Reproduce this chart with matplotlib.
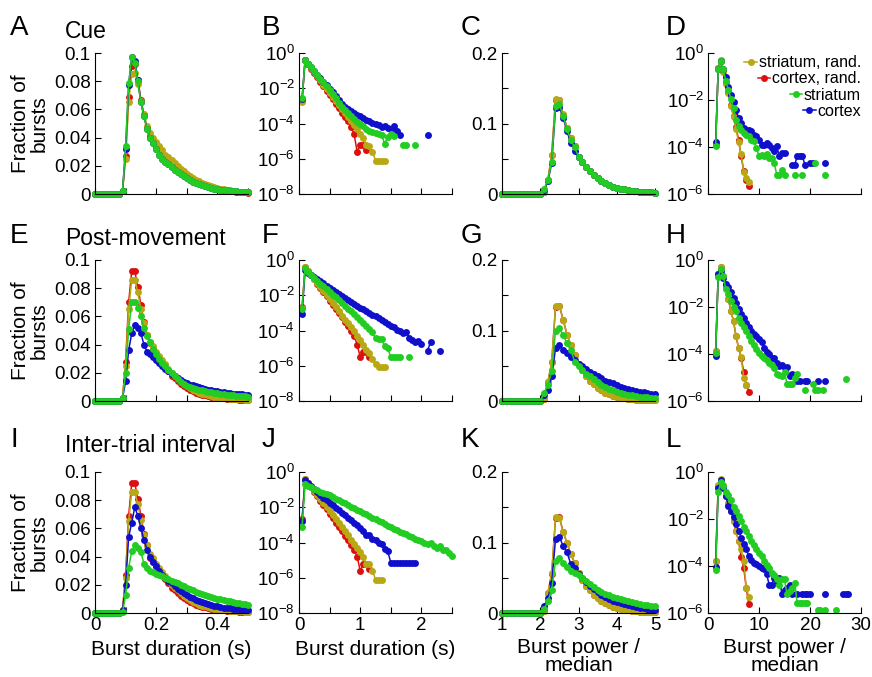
import numpy as np
import matplotlib
matplotlib.use('Agg')
import matplotlib.pyplot as plt
from matplotlib.ticker import NullLocator

plt.rcParams['font.family'] = ['Liberation Sans', 'DejaVu Sans']
plt.rcParams['mathtext.default'] = 'regular'
plt.rcParams['axes.unicode_minus'] = False

# ---- x positions of the histogram bins ----
DUR_X = [0.00, 0.01, 0.02, 0.03, 0.04, 0.05, 0.06, 0.07, 0.08, 0.09,
         0.10, 0.11, 0.12, 0.13, 0.14, 0.15, 0.16, 0.17, 0.18, 0.19,
         0.20, 0.21, 0.22, 0.23, 0.24, 0.25, 0.26, 0.27, 0.28, 0.29,
         0.30, 0.31, 0.32, 0.33, 0.34, 0.35, 0.36, 0.37, 0.38, 0.39,
         0.40, 0.41, 0.42, 0.43, 0.44, 0.45, 0.46, 0.47, 0.48, 0.49, 0.50]
DUR_LOG_X = [0.05, 0.10, 0.15, 0.20, 0.25, 0.30, 0.35, 0.40, 0.45, 0.50,
             0.55, 0.60, 0.65, 0.70, 0.75, 0.80, 0.85, 0.90, 0.95, 1.00,
             1.05, 1.10, 1.15, 1.20, 1.25, 1.30, 1.35, 1.40, 1.45, 1.50,
             1.55, 1.60, 1.65, 1.70, 1.75, 1.80, 1.85, 1.90, 1.95, 2.00,
             2.05, 2.10, 2.15, 2.20, 2.25, 2.30, 2.35, 2.40, 2.45, 2.50]
POW_X = [1.0, 1.1, 1.2, 1.3, 1.4, 1.5, 1.6, 1.7, 1.8, 1.9,
         2.0, 2.1, 2.2, 2.3, 2.4, 2.5, 2.6, 2.7, 2.8, 2.9,
         3.0, 3.1, 3.2, 3.3, 3.4, 3.5, 3.6, 3.7, 3.8, 3.9,
         4.0, 4.1, 4.2, 4.3, 4.4, 4.5, 4.6, 4.7, 4.8, 4.9, 5.0]
POW_LOG_X = [1.5, 2.0, 2.5, 3.0, 3.5, 4.0, 4.5, 5.0, 5.5, 6.0,
             6.5, 7.0, 7.5, 8.0, 8.5, 9.0, 9.5, 10.0, 10.5, 11.0,
             11.5, 12.0, 12.5, 13.0, 13.5, 14.0, 14.5, 15.0, 15.5, 16.0,
             16.5, 17.0, 17.5, 18.0, 18.5, 19.0, 19.5, 20.0, 20.5, 21.0,
             21.5, 22.0, 22.5, 23.0, 23.5, 24.0, 24.5, 25.0, 25.5, 26.0,
             26.5, 27.0, 27.5]

# empty bins before the rise (0 - 0.08 s, power 1.0 - 2.0)
DUR_LEAD = [0, 0, 0, 0, 0, 0, 0, 0, 0]
POW_LEAD = [0, 0, 0, 0, 0, 0, 0, 0, 0, 0, 0]

# ---- A / E / I : burst duration, linear (from 0.09 s) ----
A_OLIVE = DUR_LEAD + [.002, .025, .065, .085, .086, .078, .066, .057, .048, .043, .040, .037, .034, .031,
                      .028, .026, .024, .022, .020, .018, .016, .0145, .013, .0115, .010, .009, .008, .007,
                      .0062, .0055, .0048, .0042, .0037, .0032, .0028, .0025, .0022, .0019, .0017, .0015, .0013, .0011]
A_RED = DUR_LEAD + [.002, .027, .069, .091, .092, .081, .067, .056, .047, .041, .037, .034, .031, .028,
                    .026, .024, .022, .020, .018, .016, .0145, .013, .0115, .010, .009, .008, .007, .0062,
                    .0055, .0048, .0042, .0037, .0032, .0028, .0025, .0022, .0019, .0017, .0015, .0013, .0011, .001]
A_GREEN = DUR_LEAD + [.002, .034, .079, .097, .093, .080, .065, .055, .046, .040, .036, .032, .028, .025,
                      .023, .021, .019, .017, .0155, .014, .0125, .011, .0098, .0087, .0078, .007, .0062, .0055,
                      .0049, .0044, .0039, .0035, .0031, .0028, .0025, .0022, .002, .0018, .0016, .0014, .0013, .0012]
A_BLUE = DUR_LEAD + [.002, .032, .077, .097, .094, .081, .065, .055, .046, .040, .036, .032, .028, .025,
                     .023, .021, .019, .017, .0155, .014, .0125, .011, .0098, .0087, .0078, .007, .0062, .0055,
                     .0049, .0044, .0039, .0035, .0031, .0028, .0025, .0022, .002, .0018, .0016, .0014, .0013, .0012]

E_OLIVE = DUR_LEAD + [.002, .025, .065, .086, .086, .077, .065, .055, .047, .042, .039, .035, .032, .029,
                      .026, .023, .020, .018, .016, .014, .012, .0105, .009, .008, .007, .006, .0053, .0047,
                      .0041, .0036, .0031, .0027, .0024, .0021, .0019, .0017, .0015, .0013, .0012, .0011, .001, .0009]
E_RED = DUR_LEAD + [.002, .028, .070, .092, .092, .081, .068, .056, .047, .041, .037, .033, .030, .027,
                    .024, .021, .018, .016, .014, .012, .0105, .009, .008, .007, .006, .0052, .0045, .004,
                    .0035, .003, .0026, .0023, .002, .0018, .0016, .0014, .0012, .0011, .001, .0009, .0008, .0007]
E_GREEN = DUR_LEAD + [.002, .020, .051, .070, .070, .066, .060, .052, .046, .042, .037, .033, .030, .027,
                      .025, .022, .020, .0176, .0155, .0136, .012, .0105, .0098, .0092, .0086, .0081, .0076, .0071,
                      .0066, .0062, .0058, .0055, .0052, .0049, .0046, .0043, .004, .0038, .0036, .0034, .0032, .003]
E_BLUE = DUR_LEAD + [.002, .014, .036, .048, .054, .052, .048, .040, .035, .033, .031, .029, .027, .025,
                     .023, .021, .0195, .018, .0165, .015, .0137, .0125, .0117, .011, .0103, .0097, .0091, .0086,
                     .0081, .0077, .0073, .0069, .0066, .0062, .0059, .0056, .0053, .0051, .0049, .0047, .0045, .0043]

I_OLIVE = DUR_LEAD + [.002, .025, .065, .086, .086, .077, .066, .055, .048, .042, .039, .035, .032, .029,
                      .026, .023, .020, .018, .016, .014, .012, .0105, .009, .008, .007, .006, .0053, .0047,
                      .0041, .0036, .0031, .0027, .0024, .0021, .0019, .0017, .0015, .0013, .0012, .0011, .001, .0009]
I_RED = DUR_LEAD + [.002, .027, .069, .092, .092, .081, .069, .056, .048, .039, .036, .033, .030, .027,
                    .024, .021, .018, .016, .014, .012, .0105, .009, .008, .007, .006, .0052, .0045, .004,
                    .0035, .003, .0026, .0023, .002, .0018, .0016, .0014, .0012, .0011, .001, .0009, .0008, .0007]
I_GREEN = DUR_LEAD + [.0005, .0125, .032, .044, .048, .046, .043, .035, .032, .030, .029, .028, .027, .026,
                      .025, .024, .023, .022, .021, .020, .019, .018, .017, .016, .015, .0142, .0135, .0128,
                      .0121, .0114, .0108, .0102, .0097, .0092, .0087, .0082, .0077, .0073, .0069, .0065, .0062, .0059]
I_BLUE = DUR_LEAD + [.002, .020, .054, .064, .075, .069, .060, .052, .045, .040, .036, .033, .030, .027,
                     .025, .023, .021, .019, .017, .0155, .014, .0127, .0115, .0104, .0094, .0085, .0077, .0069,
                     .0063, .0057, .0052, .0047, .0043, .0039, .0036, .0033, .003, .0028, .0026, .0024, .0022, .002]

# ---- B / F / J : burst duration, log10 of fraction ----
B_OLIVE = [-2.8, -0.38, -0.62, -0.86, -1.1, -1.33, -1.56, -1.79, -2.02, -2.25, -2.48, -2.71, -2.94, -3.17,
           -3.4, -3.63, -3.86, -4.1, -4.3, -4.6, -4.85, -5.2, -5.3, -5.6, -6.1, -6.1, -6.1, -6.1]
B_RED = [-2.7, -0.38, -0.63, -0.88, -1.13, -1.38, -1.63, -1.88, -2.13, -2.38, -2.63, -2.88, -3.13, -3.38,
         -3.63, -3.88, -4.2, -4.6, -5.6, -5.2, -5.2, -5.5]
B_GREEN = [-2.57, -0.38, -0.6, -0.81, -1.03, -1.24, -1.46, -1.67, -1.89, -2.1, -2.34, -2.58, -2.82, -3.05,
           -3.22, -3.39, -3.55, -3.72, -3.89, -4.05, -4.15, -4.3, -4.4, -4.5, -4.55, -4.57, -4.65, -5.15,
           -4.75, -4.6, -4.7, None, None, -5.2, -5.2, None, None, -5.2]
B_BLUE = [-2.6, -0.38, -0.6, -0.81, -1.02, -1.23, -1.44, -1.64, -1.84, -2.04, -2.24, -2.44, -2.64, -2.9,
          -3.05, -3.2, -3.3, -3.4, -3.5, -3.6, -3.7, -3.8, -3.85, -3.95, -4.0, -4.1, -4.2, -4.15,
          -4.25, -4.3, -4.15, -4.4, -4.67, None, None, None, None, None, None, None, None, -4.67]

F_OLIVE = [-2.7, -0.38, -0.62, -0.85, -1.08, -1.31, -1.54, -1.77, -2.0, -2.23, -2.46, -2.69, -2.92, -3.15,
           -3.38, -3.6, -3.82, -4.05, -4.3, -4.55, -4.8, -5.1, -5.3, -5.6, -5.9, -6.05, -6.05, -6.05]
F_RED = [-2.67, -0.38, -0.62, -0.86, -1.1, -1.34, -1.58, -1.82, -2.06, -2.3, -2.54, -2.78, -3.02, -3.26,
         -3.5, -3.75, -4.0, -4.3, -4.8, -5.5, -5.24, -5.24, -5.5]
F_GREEN = [-2.8, -0.48, -0.66, -0.84, -1.02, -1.19, -1.35, -1.5, -1.65, -1.8, -1.96, -2.12, -2.28, -2.44,
           -2.6, -2.76, -2.92, -3.08, -3.25, -3.43, -3.6, -3.75, -3.92, -4.1, -4.45, -4.48, -4.48, -4.9,
           -5.0, -5.52, -5.52, -5.52, -5.52, None, None, -5.52]
F_BLUE = [-3.05, -0.57, -0.72, -0.85, -0.97, -1.09, -1.21, -1.33, -1.45, -1.57, -1.69, -1.8, -1.92, -2.03,
          -2.14, -2.25, -2.37, -2.48, -2.6, -2.7, -2.8, -2.9, -3.0, -3.1, -3.2, -3.3, -3.4, -3.5,
          -3.62, -3.75, -3.8, -3.95, -4.0, -4.15, -4.1, -4.4, -4.55, -4.65, -4.6, -4.75, None, -5.14,
          -4.67, None, None, -5.14]

J_OLIVE = [-2.8, -0.38, -0.61, -0.84, -1.07, -1.3, -1.53, -1.76, -1.99, -2.22, -2.45, -2.68, -2.91, -3.14,
           -3.37, -3.6, -3.83, -4.06, -4.3, -4.55, -4.8, -5.2, -5.2, -5.6, -6.1, -6.1, -6.1]
J_RED = [-2.67, -0.38, -0.62, -0.87, -1.12, -1.37, -1.62, -1.87, -2.12, -2.37, -2.62, -2.87, -3.12, -3.37,
         -3.62, -3.87, -4.12, -4.4, -4.8, -5.6, -5.24, -5.24, -5.5]
J_GREEN = [-3.1, -0.67, -0.77, -0.87, -0.96, -1.04, -1.12, -1.19, -1.26, -1.33,
           -1.42, -1.51, -1.6, -1.69, -1.78, -1.87, -1.96, -2.05, -2.14, -2.23,
           -2.32, -2.41, -2.5, -2.59, -2.68, -2.77, -2.86, -2.95, -3.04, -3.13,
           -3.22, -3.3, -3.38, -3.46, -3.54, -3.62, -3.7, -3.78, -3.86, -3.94,
           -4.02, -4.1, -4.05, -4.2, -4.3, -4.2, -4.45, -4.4, -4.6, -4.76]
J_BLUE = [-2.76, -0.48, -0.65, -0.82, -0.98, -1.14, -1.3, -1.45, -1.6, -1.75, -1.9, -2.04, -2.18, -2.32,
          -2.46, -2.6, -2.74, -2.88, -3.02, -3.2, -3.35, -3.55, -3.6, -3.8, -3.85, -4.0, -4.1, -4.38,
          -4.5, -5.14, -5.14, -5.14, -5.14, -5.14, -5.14, -5.14, -5.14, -5.14]

# ---- C / G / K : burst power / median, linear (from 2.1) ----
C_OLIVE = POW_LEAD + [.003, .02, .056, .135, .133, .113, .094, .079, .068, .053, .045, .038, .032, .027, .022,
                      .018, .015, .0125, .0105, .0088, .0075, .0064, .0055, .0047, .004, .0035, .003, .0026, .0022, .0019]
C_RED = POW_LEAD + [.003, .02, .056, .134, .134, .112, .094, .079, .068, .053, .045, .038, .032, .027, .022,
                    .018, .015, .0125, .0105, .0088, .0075, .0064, .0055, .0047, .004, .0035, .003, .0026, .0022, .0019]
C_GREEN = POW_LEAD + [.007, .02, .046, .125, .128, .110, .092, .076, .066, .053, .045, .038, .032, .027, .022,
                      .018, .015, .0125, .0105, .0088, .0075, .0064, .0055, .0047, .004, .0035, .003, .0026, .0022, .0019]
C_BLUE = POW_LEAD + [.006, .018, .044, .122, .124, .108, .089, .072, .061, .053, .045, .038, .032, .027, .022,
                     .018, .015, .0125, .0105, .0088, .0075, .0064, .0055, .0047, .004, .0035, .003, .0026, .0022, .0019]

G_OLIVE = POW_LEAD + [.003, .027, .056, .135, .135, .115, .094, .079, .065, .053, .044, .036, .029, .024, .019,
                      .015, .012, .0095, .0075, .006, .0048, .0039, .0031, .0025, .002, .0017, .0015, .0013, .0012, .0011]
G_RED = POW_LEAD + [.003, .027, .055, .134, .135, .115, .094, .079, .065, .053, .044, .036, .029, .024, .019,
                    .015, .012, .0095, .0075, .006, .0048, .0039, .0031, .0025, .002, .0017, .0015, .0013, .0012, .0011]
G_GREEN = POW_LEAD + [.011, .023, .042, .100, .103, .093, .082, .072, .056, .049, .044, .039, .035, .031, .027,
                      .023, .020, .0175, .015, .013, .0115, .0102, .009, .008, .007, .0062, .0055, .005, .0045, .004]
G_BLUE = POW_LEAD + [.008, .016, .035, .075, .079, .072, .068, .062, .058, .053, .049, .045, .041, .038, .035,
                     .032, .029, .027, .025, .022, .020, .0185, .017, .0158, .0145, .0133, .0122, .0112, .0104, .0097]

K_OLIVE = POW_LEAD + [.003, .029, .057, .136, .135, .115, .099, .083, .071, .057, .047, .039, .032, .026, .021,
                      .017, .014, .011, .009, .0072, .0058, .0047, .0038, .0031, .0025, .002, .0017, .0014, .0012, .001]
K_RED = POW_LEAD + [.003, .028, .056, .135, .136, .115, .099, .083, .071, .057, .047, .039, .032, .026, .021,
                    .017, .014, .011, .009, .0072, .0058, .0047, .0038, .0031, .0025, .002, .0017, .0014, .0012, .001]
K_GREEN = POW_LEAD + [.005, .017, .033, .074, .078, .071, .065, .060, .057, .054, .049, .045, .041, .037, .033,
                      .030, .027, .025, .023, .021, .0195, .018, .0165, .015, .014, .013, .012, .011, .0102, .0095]
K_BLUE = POW_LEAD + [.01, .021, .043, .105, .108, .095, .086, .069, .064, .056, .050, .044, .039, .034, .030,
                     .026, .023, .020, .0175, .0155, .0138, .0122, .0108, .0096, .0085, .0075, .0066, .0056, .0047, .0040]

# ---- D / H / L : burst power / median, log10 of fraction ----
D_OLIVE = [-3.9, -0.64, -0.31, -0.82, -1.3, -1.72, -2.26, -2.72, -3.25, -3.8, -4.3, -5.05, -5.3, -5.5]
D_RED = [-3.9, -0.64, -0.33, -0.78, -1.25, -1.68, -2.2, -2.68, -3.15, -3.7, -4.4, -5.0, -5.4, -5.65]
D_GREEN = [-3.97, -0.68, -0.33, -0.7, -1.21, -1.56, -1.96, -2.34, -2.84, -3.09, -3.26, -3.4, -3.48, -3.55,
           -3.69, -3.76, -4.04, -4.4, -4.33, -4.4, -4.28, -4.47, -4.47, -4.7, -5.2, -5.2, -4.97, -5.2,
           None, None, None, -5.2, None, None, -5.2, None, None, None, None, -4.7, None, None, None, -5.2]
D_BLUE = [-3.8, -0.68, -0.35, -0.66, -1.02, -1.45, -1.77, -2.1, -2.41, -2.77, -2.98, -3.19, -3.26, -3.26,
          -3.33, -3.48, -3.55, -3.69, -3.9, -3.9, -3.83, -3.9, -4.04, -4.18, -3.97, -4.4, -4.26, -4.26,
          None, None, -4.75, -4.75, -4.4, -4.4, -4.4, -4.75, None, -4.7, -4.7, None, None, None, None, -4.7]

H_OLIVE = [-3.87, -0.6, -0.28, -0.7, -1.1, -1.66, -2.16, -2.59, -3.23, -3.73, -4.13, -5.0, -5.3]
H_RED = [-3.87, -0.6, -0.3, -0.72, -1.12, -1.68, -2.18, -2.6, -3.25, -3.75, -4.15, -4.75, -5.3, -5.6]
H_GREEN = [-3.95, -0.74, -0.38, -0.67, -1.24, -1.45, -1.74, -1.99, -2.19, -2.45, -2.66, -2.84, -3.02, -3.23,
           -3.44, -3.61, -3.8, -3.94, -4.08, -4.18, -4.27, -4.37, -4.47, -4.58, -4.86, -4.9, -4.94, -4.75,
           -5.29, -5.29, -5.29, -5.0, -4.86, None, None, -5.55, None, None, -5.26, -5.55, -5.55, None,
           -5.55, None, None, None, None, None, None, None, None, -5.08]
H_BLUE = [-4.08, -0.6, -0.46, -0.75, -1.02, -1.17, -1.38, -1.62, -1.85, -2.09, -2.28, -2.45, -2.66, -2.84,
          -3.02, -3.16, -3.23, -3.37, -3.47, -3.73, -3.9, -4.01, -4.15, -4.18, -4.37, -4.51, -4.47, -4.58,
          -4.55, -4.94, -4.87, -4.94, -5.15, -5.15, None, -5.15, -5.15, None, None, None, -5.15, None,
          None, -5.15]

L_OLIVE = [-3.79, -0.55, -0.29, -0.57, -1.0, -1.33, -1.64, -2.07, -2.5, -2.93, -3.29, -3.79, -4.93, -5.3]
L_RED = [-3.79, -0.6, -0.32, -0.6, -1.02, -1.35, -1.66, -2.1, -2.52, -2.95, -3.6, -4.07, -4.93, -5.61]
L_GREEN = [-4.19, -0.86, -0.43, -0.6, -0.85, -0.98, -1.21, -1.47, -1.64, -1.86, -2.07, -2.33, -2.5, -2.71,
           -2.93, -3.11, -3.26, -3.43, -3.57, -3.79, -3.96, -4.07, -4.29, -4.39, -4.57, -4.79, -4.57, -4.57,
           -5.21, -5.07, -4.93, -4.71, -5.57, -5.57, -5.57, -5.57, -5.57, None, None, None, -5.86, -5.86,
           None, -5.86, None, None, None, -5.86]
L_BLUE = [-4.03, -0.7, -0.36, -0.7, -1.04, -1.43, -1.64, -1.93, -2.21, -2.5, -2.79, -3.07, -3.29, -3.57,
          -3.76, -3.86, -3.9, -4.0, -4.07, -4.14, -4.36, -4.79, -4.79, -4.5, -4.64, -4.5, -5.21, -5.0,
          -4.93, -4.79, -5.21, None, -5.21, None, -5.21, -5.21, -5.21, -5.21, None, None, None, None,
          None, -5.21, None, None, None, None, None, None, -5.21, -5.21, -5.21]

SERIES = ['olive', 'red', 'green', 'blue']          # legend order
DRAW_ORDER = ['red', 'olive', 'blue', 'green']      # green ends up on top
LABELS = {'olive': 'striatum, rand.', 'red': 'cortex, rand.',
          'green': 'striatum', 'blue': 'cortex'}
COLORS = {'olive': '#b8a814', 'red': '#dc1010', 'green': '#22cc22', 'blue': '#1010cc'}

ROW_TITLES = ['Cue', 'Post-movement', 'Inter-trial interval']
LETTERS = [['A', 'B', 'C', 'D'], ['E', 'F', 'G', 'H'], ['I', 'J', 'K', 'L']]
DATA = [
    [(A_OLIVE, A_RED, A_GREEN, A_BLUE), (B_OLIVE, B_RED, B_GREEN, B_BLUE),
     (C_OLIVE, C_RED, C_GREEN, C_BLUE), (D_OLIVE, D_RED, D_GREEN, D_BLUE)],
    [(E_OLIVE, E_RED, E_GREEN, E_BLUE), (F_OLIVE, F_RED, F_GREEN, F_BLUE),
     (G_OLIVE, G_RED, G_GREEN, G_BLUE), (H_OLIVE, H_RED, H_GREEN, H_BLUE)],
    [(I_OLIVE, I_RED, I_GREEN, I_BLUE), (J_OLIVE, J_RED, J_GREEN, J_BLUE),
     (K_OLIVE, K_RED, K_GREEN, K_BLUE), (L_OLIVE, L_RED, L_GREEN, L_BLUE)],
]
XGRID = [DUR_X, DUR_LOG_X, POW_X, POW_LOG_X]
IS_LOG = [False, True, False, True]

W, H = 872, 677
LEFTS = [95, 299, 502, 708]
TOPS = [53, 260, 472]
AW, AH = 153, 141
LETTER_X = [10, 262, 461, 666]
LETTER_BASE = [35, 243, 447]
TITLE_BASE = [38, 245, 452]

fig = plt.figure(figsize=(W / 100, H / 100), dpi=100)


def fx(px):
    return px / W


def fy(py):
    return 1 - py / H


def setup_axes(ax, col, bottom):
    ax.spines[['top', 'right']].set_visible(False)
    for s in ['left', 'bottom']:
        ax.spines[s].set_linewidth(0.8)
    ax.tick_params(direction='in', length=4, width=0.8, labelsize=13.5, pad=3)
    if col == 0:
        ax.set_xlim(0, 0.5)
        ax.set_ylim(0, 0.1)
        ax.set_xticks([0, 0.1, 0.2, 0.3, 0.4, 0.5], ['0', '', '0.2', '', '0.4', ''])
        ax.set_yticks([0, 0.02, 0.04, 0.06, 0.08, 0.1],
                      ['0', '0.02', '0.04', '0.06', '0.08', '0.1'])
    elif col == 1:
        ax.set_yscale('log')
        ax.set_xlim(0, 2.5)
        ax.set_ylim(1e-8, 1)
        ax.set_xticks([0, 0.5, 1, 1.5, 2, 2.5], ['0', '', '1', '', '2', ''])
        ax.set_yticks([1, 1e-2, 1e-4, 1e-6, 1e-8],
                      ['$10^{0}$', '$10^{-2}$', '$10^{-4}$', '$10^{-6}$', '$10^{-8}$'])
    elif col == 2:
        ax.set_xlim(1, 5)
        ax.set_ylim(0, 0.2)
        ax.set_xticks([1, 2, 3, 4, 5], ['1', '2', '3', '4', '5'])
        ax.set_yticks([0, 0.05, 0.1, 0.15, 0.2], ['0', '', '0.1', '', '0.2'])
    else:
        ax.set_yscale('log')
        ax.set_xlim(0, 30)
        ax.set_ylim(1e-6, 1)
        ax.set_xticks([0, 10, 20, 30], ['0', '10', '20', '30'])
        ax.set_yticks([1, 1e-2, 1e-4, 1e-6],
                      ['$10^{0}$', '$10^{-2}$', '$10^{-4}$', '$10^{-6}$'])
    ax.xaxis.set_minor_locator(NullLocator())
    ax.yaxis.set_minor_locator(NullLocator())
    if not bottom:
        ax.tick_params(labelbottom=False)


for r in range(3):
    for c in range(4):
        ax = fig.add_axes([fx(LEFTS[c]), fy(TOPS[r] + AH), AW / W, AH / H])
        setup_axes(ax, c, r == 2)
        x = np.array(XGRID[c])
        vals = dict(zip(SERIES, DATA[r][c]))
        lines = {}
        for key in DRAW_ORDER:
            y = np.array(vals[key], dtype=float)
            if IS_LOG[c]:
                y = 10.0 ** y
            lines[key], = ax.plot(x[:len(y)], y, '-o', color=COLORS[key], lw=1.1,
                                  ms=5.0, mew=0, clip_on=False, label=LABELS[key])
        if r == 0 and c == 3:
            leg = ax.legend(handles=[lines[k] for k in SERIES], loc='upper right',
                            bbox_to_anchor=(1.0, 0.985), frameon=False, fontsize=11.5,
                            handlelength=0.8, handletextpad=0.1, labelspacing=0.08,
                            borderpad=0, borderaxespad=0, numpoints=1)
            for box in leg._legend_handle_box.get_children():
                box.align = 'right'
        fig.text(fx(LETTER_X[c]), fy(LETTER_BASE[r]), LETTERS[r][c],
                 fontsize=20, ha='left', va='baseline')
    fig.text(fx(65), fy(TITLE_BASE[r]), ROW_TITLES[r], fontsize=16.5,
             ha='left', va='baseline')
    fig.text(fx(30), fy(TOPS[r] + AH / 2), 'Fraction of\nbursts', rotation=90,
             fontsize=15, ha='center', va='center', linespacing=0.95)

# x labels of the bottom row
fig.text(fx(LEFTS[0] + AW / 2), fy(655), 'Burst duration (s)', fontsize=15,
         ha='center', va='baseline')
fig.text(fx(LEFTS[1] + AW / 2), fy(655), 'Burst duration (s)', fontsize=15,
         ha='center', va='baseline')
for c in (2, 3):
    fig.text(fx(LEFTS[c] + AW / 2), fy(653), 'Burst power /', fontsize=15,
             ha='center', va='baseline')
    fig.text(fx(LEFTS[c] + AW / 2), fy(671), 'median', fontsize=15,
             ha='center', va='baseline')

fig.savefig('out.png', dpi=100)
